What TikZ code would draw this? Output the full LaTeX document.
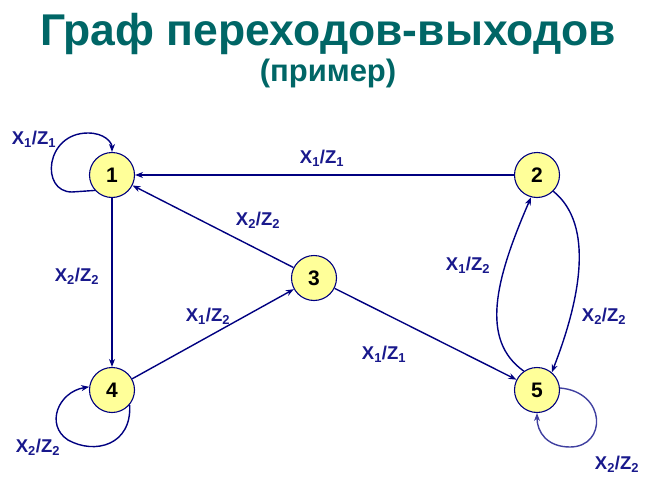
\documentclass[tikz,border=0pt]{standalone}
\usepackage{fontspec}
\setmainfont{Liberation Sans}
\usetikzlibrary{arrows.meta}
\definecolor{navy}{RGB}{0,0,128}
\definecolor{lblue}{RGB}{25,25,140}
\definecolor{teal}{RGB}{0,102,102}
\definecolor{nodefill}{RGB}{255,255,153}
\begin{document}
\begin{tikzpicture}[x=1pt,y=-1pt,
  state/.style={circle,draw=navy,line width=1.1pt,fill=nodefill,minimum size=45pt,inner sep=0pt,font=\fontsize{21}{21}\selectfont\bfseries},
  edge/.style={draw=navy,line width=1.4pt,-{Stealth[length=8pt,width=6pt]}},
  lbl/.style={text=lblue,font=\fontsize{18.5}{18.5}\selectfont\bfseries,inner sep=0pt}]
\useasboundingbox (0,0) rectangle (656,479);
\node[text=teal,font=\fontsize{44.5}{44.5}\selectfont\bfseries,anchor=base] (title) at (328,45) {Граф переходов-выходов};
\node[text=teal,font=\fontsize{31}{31}\selectfont\bfseries,anchor=base] (sub) at (328,81) {(пример)};
\node[state] (n1) at (112,175) {1};
\node[state] (n2) at (537,175) {2};
\node[state] (n3) at (314,278) {3};
\node[state] (n4) at (112,390) {4};
\node[state] (n5) at (537,390) {5};
% edges
\draw[edge] (n2) -- (n1);
\draw[edge] (n3) -- (n1);
\draw[edge] (n1) -- (n4);
\draw[edge] (n4) -- (n3);
\draw[edge] (n3) -- (n5);
\draw[edge] (n2.-45) .. controls (595,225) and (580,300) .. (n5.50);
\draw[edge] (n5.125) .. controls (480,340) and (495,280) .. (n2.-105);
% loops
\coordinate (l1) at (72,192);
\draw[edge] (n1.222) -- (l1) .. controls (40,192) and (45,133) .. (88,133) .. controls (104,133) and (112,142) .. (n1.north);
\draw[edge] (n4.-40) .. controls (132,445) and (95,455) .. (68,440) .. controls (45,425) and (58,392) .. (n4.172);
\draw[edge,draw=navy!75] (n5.5) .. controls (607,392) and (607,447) .. (570,447) .. controls (547,447) and (537,432) .. (n5.south);
% labels
\node[lbl] (t1) at (34,139) {X\textsubscript{1}/Z\textsubscript{1}};
\node[lbl] (t2) at (322,158) {X\textsubscript{1}/Z\textsubscript{1}};
\node[lbl] (t3) at (258,220) {X\textsubscript{2}/Z\textsubscript{2}};
\node[lbl] (t4) at (77,276) {X\textsubscript{2}/Z\textsubscript{2}};
\node[lbl] (t5) at (208,316) {X\textsubscript{1}/Z\textsubscript{2}};
\node[lbl] (t6) at (384,354) {X\textsubscript{1}/Z\textsubscript{1}};
\node[lbl] (t7) at (468,265) {X\textsubscript{1}/Z\textsubscript{2}};
\node[lbl] (t8) at (604,316) {X\textsubscript{2}/Z\textsubscript{2}};
\node[lbl] (t9) at (38,447) {X\textsubscript{2}/Z\textsubscript{2}};
\node[lbl] (t10) at (617,464) {X\textsubscript{2}/Z\textsubscript{2}};
\end{tikzpicture}
\end{document}
